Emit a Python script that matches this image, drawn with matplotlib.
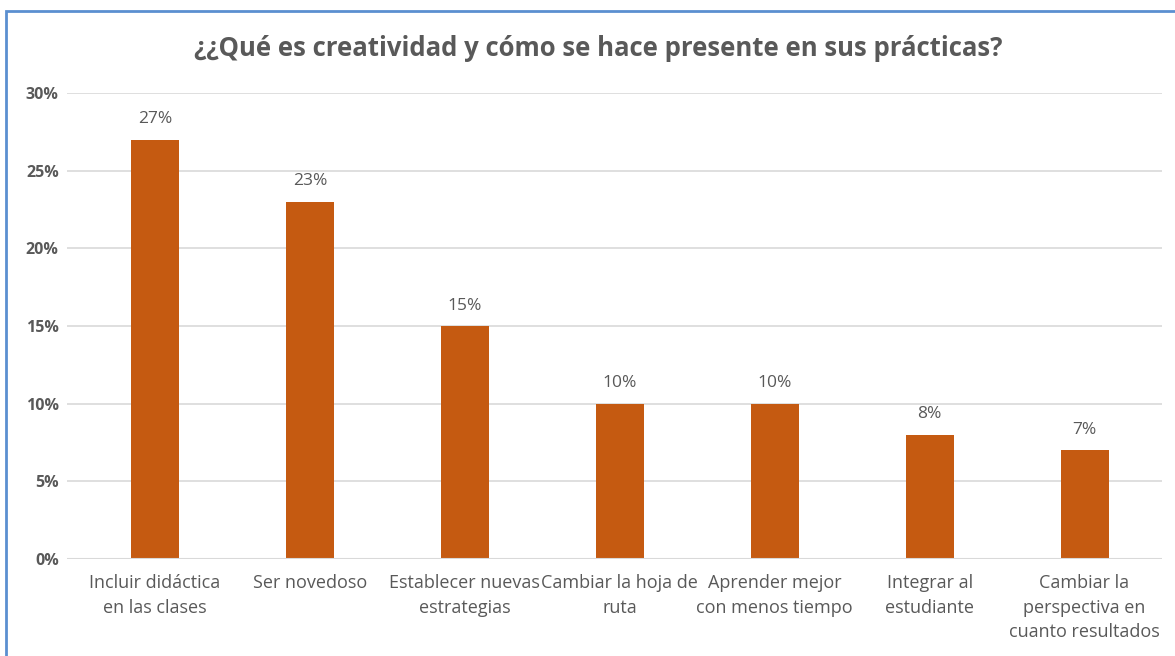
import matplotlib
matplotlib.use("Agg")
import matplotlib.pyplot as plt
from matplotlib.patches import Rectangle
from matplotlib.ticker import PercentFormatter

categories = [
    "Incluir didáctica\nen las clases",
    "Ser novedoso",
    "Establecer nuevas\nestrategias",
    "Cambiar la hoja de\nruta",
    "Aprender mejor\ncon menos tiempo",
    "Integrar al\nestudiante",
    "Cambiar la\nperspectiva en\ncuanto resultados",
]
values = [0.27, 0.23, 0.15, 0.10, 0.10, 0.08, 0.07]
title = "¿¿Qué es creatividad y cómo se hace presente en sus prácticas?"

BAR_COLOR = "#C55A11"
TEXT_COLOR = "#595959"
GRID_COLOR = "#D9D9D9"

plt.rcParams["font.family"] = ["Open Sans", "DejaVu Sans"]

fig = plt.figure(figsize=(11.75, 6.56), dpi=100)
ax = fig.add_axes([67 / 1175, 1 - 559 / 656, 1095 / 1175, 466 / 656])

x = range(len(categories))
bars = ax.bar(x, values, width=0.31, color=BAR_COLOR, zorder=3)
for b, v in zip(bars, values):
    ax.text(b.get_x() + b.get_width() / 2, v + 0.008, f"{v:.0%}",
            ha="center", va="bottom", fontsize=12.5, color=TEXT_COLOR)

ax.set_xlim(-0.568, len(categories) - 0.5)
ax.set_ylim(0, 0.30)
ax.set_yticks([0, 0.05, 0.10, 0.15, 0.20, 0.25, 0.30])
ax.yaxis.set_major_formatter(PercentFormatter(1.0, decimals=0))
ax.set_xticks(list(x))
ax.set_xticklabels(categories, fontsize=13, color=TEXT_COLOR, linespacing=1.45)
for lab in ax.get_yticklabels():
    lab.set_fontweight("bold")
    lab.set_color(TEXT_COLOR)
    lab.set_fontsize(11.5)

ax.grid(axis="y", color=GRID_COLOR, lw=1.2, zorder=0)
ax.tick_params(length=0)
ax.tick_params(axis="y", pad=6)
ax.tick_params(axis="x", pad=11)
for s in ax.spines.values():
    s.set_visible(False)
ax.axhline(0, color=GRID_COLOR, lw=1.5, zorder=4)

fig.text(598 / 1175, 1 - 48 / 656, title, ha="center", va="center",
         fontsize=18.5, fontweight="bold", color=TEXT_COLOR)

# chart border, partly cropped like the screenshot
fig.patches.append(Rectangle((6 / 1175, -0.1), 1.2, 1 - 11 / 656 + 0.1,
                             transform=fig.transFigure, fill=False,
                             edgecolor="#5B8FD0", lw=2, zorder=10))

fig.savefig("out.png", dpi=100, facecolor="white")
